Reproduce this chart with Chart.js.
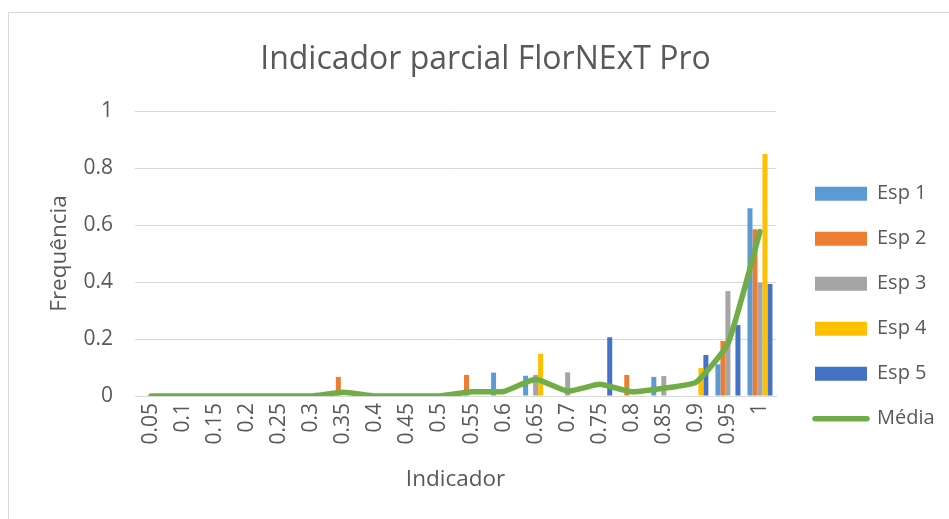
<!DOCTYPE html>
<html>
<head>
<meta charset="utf-8">
<script src="https://cdn.jsdelivr.net/npm/chart.js@4.4.1/dist/chart.umd.min.js"></script>
<style>
  html, body { margin: 0; padding: 0; background: #ffffff; overflow: hidden; }
  #wrap { position: relative; width: 949px; height: 519px; }
  #frame { position: absolute; left: 8px; top: 12px; width: 1000px; height: 600px; border: 1px solid #D9D9D9; box-sizing: border-box; }
  canvas { position: absolute; left: 0; top: 0; }
</style>
</head>
<body>
<div id="wrap">
  <div id="frame"></div>
  <canvas id="c" width="949" height="519"></canvas>
</div>
<script>
const categories = ['0.05','0.1','0.15','0.2','0.25','0.3','0.35','0.4','0.45','0.5','0.55','0.6','0.65','0.7','0.75','0.8','0.85','0.9','0.95','1'];
const esp1  = [0,0,0,0,0,0,0,0,0,0,0,0.082,0.071,0,0,0,0.067,0,0.111,0.659];
const esp2  = [0,0,0,0,0,0,0.067,0,0,0,0.074,0,0,0,0,0.074,0,0,0.193,0.585];
const esp3  = [0,0,0,0,0,0,0,0,0,0,0,0,0.074,0.083,0,0,0.070,0,0.368,0.398];
const esp4  = [0,0,0,0,0,0,0,0,0,0,0,0,0.148,0,0,0,0,0.098,0,0.849];
const esp5  = [0,0,0,0,0,0,0,0,0,0,0,0,0,0,0.206,0,0,0.144,0.249,0.393];
const media = [0,0,0,0,0,0,0.013,0,0,0,0.015,0.016,0.059,0.017,0.041,0.015,0.027,0.048,0.184,0.577];
const yTicks = [0, 0.2, 0.4, 0.6, 0.8, 1];

const FONT = "'Open Sans', sans-serif";
const TXT = '#595959';

const fixLegend = {
  id: 'fixLegend',
  afterInit(chart) {
    const lg = chart.legend;
    const f = lg.fit.bind(lg);
    lg.fit = function () { f(); this.width = 173; };
  },
  afterLayout(chart) {
    const lg = chart.legend;
    lg.left = 790; lg.right = 790 + 173;
    lg.top = 112; lg.bottom = 500.4;
  }
};

new Chart(document.getElementById('c'), {
  type: 'bar',
  data: {
    labels: categories,
    datasets: [
      { label: 'Esp 1', data: esp1, backgroundColor: '#5B9BD5' },
      { label: 'Esp 2', data: esp2, backgroundColor: '#ED7D31' },
      { label: 'Esp 3', data: esp3, backgroundColor: '#A5A5A5' },
      { label: 'Esp 4', data: esp4, backgroundColor: '#FFC000' },
      { label: 'Esp 5', data: esp5, backgroundColor: '#4472C4' },
      { type: 'line', label: 'Média', data: media, borderColor: '#70AD47', backgroundColor: '#70AD47',
        borderWidth: 5.5, pointRadius: 0, tension: 0.15, borderCapStyle: 'round', borderJoinStyle: 'round', order: -1, fill: false }
    ]
  },
  options: {
    responsive: false,
    animation: false,
    devicePixelRatio: 1,
    layout: { padding: { left: 22, right: 0, top: 0, bottom: 0 } },
    datasets: { bar: { barPercentage: 1, categoryPercentage: 0.78 } },
    plugins: {
      tooltip: { enabled: false },
      title: {
        display: true,
        text: 'Indicador parcial FlorNExT Pro',
        color: TXT,
        font: { family: FONT, size: 32, weight: 'normal' },
        padding: { top: 41, bottom: 31.6 }
      },
      legend: {
        position: 'right',
        labels: {
          color: TXT,
          font: { family: FONT, size: 20 },
          usePointStyle: true,
          pointStyleWidth: 52,
          boxHeight: 14,
          padding: 25,
          generateLabels(chart) {
            return chart.data.datasets.map((ds, i) => ({
              text: ds.label,
              fillStyle: ds.type === 'line' ? ds.borderColor : ds.backgroundColor,
              strokeStyle: ds.type === 'line' ? ds.borderColor : ds.backgroundColor,
              lineWidth: ds.type === 'line' ? 5.5 : 0,
              lineCap: 'round',
              pointStyle: ds.type === 'line' ? 'line' : 'rect',
              fontColor: TXT,
              hidden: false,
              datasetIndex: i
            }));
          }
        }
      }
    },
    scales: {
      x: {
        grid: { display: false, drawTicks: false },
        border: { display: true, color: '#D9D9D9', width: 1 },
        ticks: { color: TXT, font: { family: FONT, size: 21 }, minRotation: 90, maxRotation: 90, autoSkip: false, padding: 7 },
        title: { display: true, text: 'Indicador', color: TXT, font: { family: FONT, size: 22.5 }, padding: { top: 0, bottom: 25.5 } },
        afterFit(s) { s.height = 123; }
      },
      y: {
        min: 0, max: 1,
        afterBuildTicks(s) { s.ticks = yTicks.map(v => ({ value: v })); },
        grid: { color: '#D9D9D9', lineWidth: 1, drawTicks: false },
        border: { display: false },
        ticks: { color: TXT, font: { family: FONT, size: 21 }, padding: 22, callback: v => String(v) },
        title: { display: true, text: 'Frequência', color: TXT, font: { family: FONT, size: 22.5 }, padding: { top: 24.5, bottom: 0 } },
        afterFit(s) { s.width = 113; }
      }
    }
  },
  plugins: [fixLegend]
});
</script>
</body>
</html>
